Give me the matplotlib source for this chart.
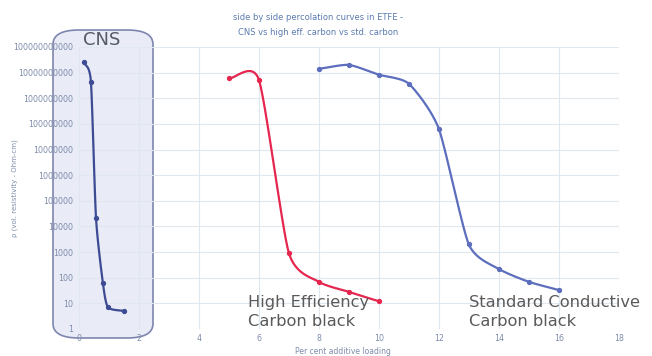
import numpy as np
import matplotlib
matplotlib.use("Agg")
import matplotlib.pyplot as plt
from matplotlib.patches import FancyBboxPatch

# percolation data: loading (%) vs volume resistivity (Ohm-cm)
cns_x = [0.17, 0.4, 0.57, 0.8, 0.97, 1.5]
cns_y = [2.5e10, 4.5e9, 2.2e4, 63, 7, 5]

hec_x = [5, 6, 7, 8, 9, 10]
hec_y = [5.9e9, 5.3e9, 930, 69, 28, 12]

std_x = [8, 9, 10, 11, 12, 13, 14, 15, 16]
std_y = [1.4e10, 2e10, 8.3e9, 3.7e9, 6.5e7, 2000, 220, 69, 33]

y_ticks = [10 ** k for k in range(0, 12)]
x_ticks = list(range(0, 20, 2))


def smooth(xs, ys, n=24, tension=0.65):
    # cardinal spline through the points in (x, log y) space
    p = np.column_stack([xs, np.log10(ys)])
    p = np.vstack([p[0] - (p[1] - p[0]), p, p[-1] + (p[-1] - p[-2])])
    t = np.linspace(0, 1, n, endpoint=False)[:, None]
    h00 = 2 * t ** 3 - 3 * t ** 2 + 1
    h10 = t ** 3 - 2 * t ** 2 + t
    h01 = -2 * t ** 3 + 3 * t ** 2
    h11 = t ** 3 - t ** 2
    out = []
    for i in range(1, len(p) - 2):
        p0, p1, p2, p3 = p[i - 1], p[i], p[i + 1], p[i + 2]
        m1 = tension * (p2 - p0) / 2
        m2 = tension * (p3 - p1) / 2
        out.append(h00 * p1 + h10 * m1 + h01 * p2 + h11 * m2)
    out.append(p[-2][None, :])
    out = np.vstack(out)
    return out[:, 0], 10 ** out[:, 1]


fig = plt.figure(figsize=(6.52, 3.56), dpi=100)
fig.patch.set_facecolor("white")
ax = fig.add_axes([0.121, 0.076, 0.828, 0.792])
ax.set_facecolor("none")

# rounded highlight box around the CNS curve
box = FancyBboxPatch((53 / 652, 1 - 338 / 356), 100 / 652, 308 / 356,
                     boxstyle="round,pad=0,rounding_size=0.04",
                     transform=fig.transFigure, facecolor="#e9ebf6",
                     edgecolor="#7f86ad", linewidth=1.2, zorder=-1)
fig.patches.append(box)

series = [
    (cns_x, cns_y, "#3c4b94"),
    (hec_x, hec_y, "#e5264f"),
    (std_x, std_y, "#5c6ebd"),
]
for xs, ys, c in series:
    sx, sy = smooth(xs, ys)
    ax.plot(sx, sy, color=c, lw=1.6, solid_capstyle="round")
    ax.plot(xs, ys, "o", color=c, ms=2.8)

ax.set_yscale("log")
ax.set_xlim(0, 18)
ax.set_ylim(1, 1e11)
ax.set_xticks(x_ticks)
ax.set_yticks(y_ticks)
ax.set_yticklabels([str(v) for v in y_ticks])
ax.yaxis.set_minor_locator(matplotlib.ticker.NullLocator())
ax.grid(True, color="#dfe7ef", lw=0.8)
ax.set_axisbelow(True)
for s in ax.spines.values():
    s.set_visible(False)
ax.tick_params(length=0, labelsize=5.7, labelcolor="#7d8cab", pad=4)

ax.set_ylabel("ρ (vol. resistivity - Ohm-cm)", fontsize=5, color="#7d8cab")
ax.yaxis.set_label_coords(-0.112, 0.5)
ax.set_xlabel("Per cent additive loading", fontsize=5.5, color="#7d8cab")
ax.xaxis.set_label_coords(0.49, -0.065)
fig.text(0.488, 0.897, "side by side percolation curves in ETFE -\nCNS vs high eff. carbon vs std. carbon",
         ha="center", va="bottom", fontsize=6.0, color="#5b7bb0", linespacing=1.75)

fig.text(102 / 652, 1 - 40 / 356, "CNS", ha="center", va="center", fontsize=13, color="#555a66")
ax.text(5.65, 22, "High Efficiency\nCarbon black", ha="left", va="top", fontsize=11.7,
        color="#5a5a5a", linespacing=1.35)
ax.text(13.0, 22, "Standard Conductive\nCarbon black", ha="left", va="top", fontsize=11.7,
        color="#5a5a5a", linespacing=1.35)

fig.savefig("out.png", dpi=100)
